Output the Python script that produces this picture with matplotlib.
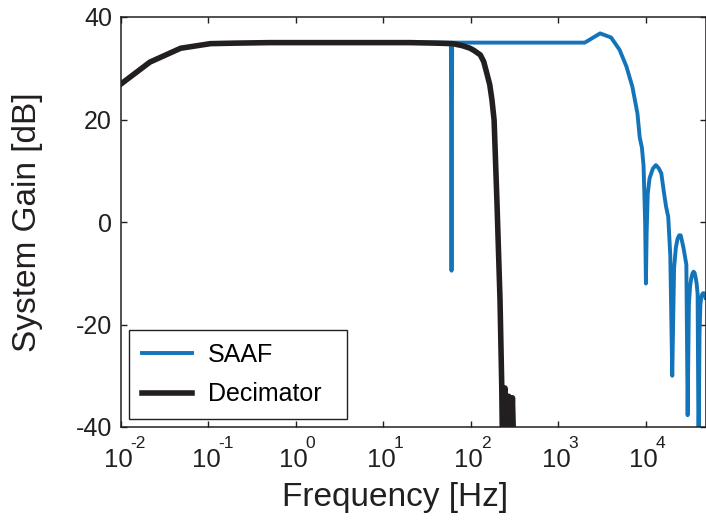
import matplotlib
matplotlib.use("Agg")
import matplotlib.pyplot as plt
from matplotlib.ticker import FixedLocator, NullLocator, NullFormatter

plt.rcParams['font.family'] = ['Liberation Sans', 'DejaVu Sans']
plt.rcParams['axes.unicode_minus'] = False

# Decimator response (Hz, dB)
dec_freq = [0.0103, 0.0214, 0.048, 0.105, 0.2, 0.5, 1, 2, 5, 10, 20, 40, 62,
            80, 98, 110, 128, 140, 152, 164, 174, 184, 198, 215, 225, 230,
            245, 258, 270, 285, 298, 315]
dec_gain = [27.1, 31.2, 33.9, 34.8, 34.9, 35.0, 35.0, 35.0, 35.0, 35.0, 35.0,
            34.9, 34.8, 34.4, 33.9, 33.4, 32.6, 31.3, 29.0, 26.8, 23.8, 19.9,
            4.3, -15.2, -32.0, -45.0, -32.4, -45.0, -34.0, -45.0, -34.3, -50.0]

# SAAF response (Hz, dB)
saaf_freq = [0.01, 0.0214, 0.048, 0.105, 0.2, 0.5, 1, 2, 5, 10, 20, 40, 59, 60,
             61, 100, 200, 500, 1000, 2000, 3000, 4000, 5000, 6000, 7000,
             8000, 8500, 9000, 9400, 9800, 10000, 10200, 10500, 11000, 12000,
             13000, 14000, 15000, 16000, 17000, 18000, 19000, 20000, 21000,
             22000, 23000, 24000, 25000, 26000, 27000, 28000, 29000, 30000,
             31000, 32000, 33000, 34000, 35000, 36000, 37000, 38000, 39000,
             40000, 41000, 42000, 43000, 44000, 45000, 46000, 47000, 48000]
saaf_gain = [26.9, 31.2, 33.9, 34.8, 34.9, 35.0, 35.0, 35.0, 35.0, 35.0, 35.0,
             35.0, 35.0, -9.5, 35.0, 35.0, 35.0, 35.0, 35.0, 35.0, 36.8, 36.0,
             33.6, 30.3, 26.4, 21.2, 16.5, 14.5, 11.0, 0.0, -12.0, -2.0, 5.5,
             8.5, 10.4, 11.1, 10.5, 9.5, 6.0, 3.0, 1.0, -6.5, -30.0, -9.0,
             -5.0, -3.3, -2.6, -2.6, -3.9, -5.2, -6.8, -8.3, -37.7, -16.0,
             -12.5, -11.0, -10.1, -9.7, -9.9, -10.8, -12.0, -14.0, -46.0,
             -22.0, -16.0, -14.6, -14.1, -13.9, -13.9, -14.2, -14.8]

# decade exponents shown on the frequency axis
x_exps = [-2, -1, 0, 1, 2, 3, 4]
y_ticks = [-40, -20, 0, 20, 40]

blue = '#1374BA'
black = '#231F20'
ink = '#231F20'

fig = plt.figure(figsize=(7.06, 5.29), dpi=100)
ax = fig.add_axes([121 / 706, 1 - 427 / 529, 584.5 / 706, 410 / 529])

ax.semilogx(saaf_freq, saaf_gain, color=blue, lw=2.8, label='SAAF')
ax.semilogx(dec_freq, dec_gain, color=black, lw=4.0, label='Decimator')

ax.set_xlim(0.01, 48000)
ax.set_ylim(-40, 40)
ax.set_yticks(y_ticks)
ax.xaxis.set_major_locator(FixedLocator([10.0 ** e for e in x_exps]))
ax.xaxis.set_minor_locator(NullLocator())
ax.xaxis.set_major_formatter(NullFormatter())

ax.tick_params(which='both', direction='in', top=True, right=True,
               length=4.5, width=1, labelsize=18, colors=ink)
ax.tick_params(axis='y', pad=6.5)
for sp in ax.spines.values():
    sp.set_linewidth(1.1)
    sp.set_color(ink)

# MATLAB-style decade labels: big "10" with a raised small exponent
for e in x_exps:
    ax.annotate('10', xy=(10.0 ** e, 0), xycoords=('data', 'axes fraction'),
                xytext=(-1.8, -28.8), textcoords='offset points',
                ha='center', va='baseline', fontsize=18.5, color=ink,
                annotation_clip=False)
    ax.annotate(str(e), xy=(10.0 ** e, 0), xycoords=('data', 'axes fraction'),
                xytext=(7.0, -15.3), textcoords='offset points',
                ha='left', va='baseline', fontsize=12.5, color=ink,
                annotation_clip=False)

ax.set_xlabel('Frequency [Hz]', fontsize=24, color=ink)
ax.set_ylabel('System Gain [dB]', fontsize=24, color=ink)
ax.xaxis.set_label_coords(0.469, -0.134)
ax.yaxis.set_label_coords(-0.133, 0.5)

leg = ax.legend(loc='lower left', bbox_to_anchor=(0.014, 0.02, 0.372, 0.2),
                mode='expand', fontsize=18, fancybox=False, framealpha=1,
                edgecolor=ink, handlelength=2.0, handletextpad=0.65,
                labelspacing=0.62, borderpad=0.5, borderaxespad=0)
leg.get_frame().set_linewidth(1.0)

fig.savefig('out.png', dpi=100)
